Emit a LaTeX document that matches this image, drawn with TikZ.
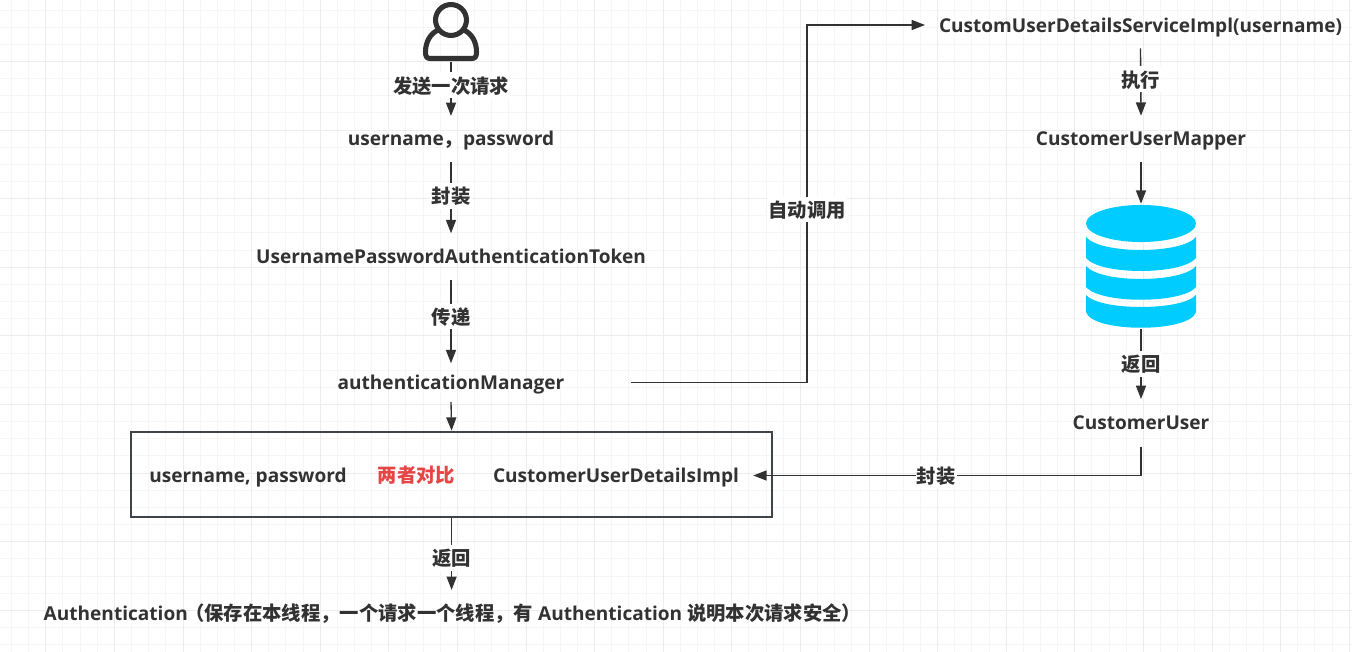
\documentclass[tikz,border=0pt]{standalone}
\usepackage{fontspec}
\setmainfont{Open Sans}
\newfontfamily\cjk{Noto Sans CJK SC}
\definecolor{ink}{HTML}{323232}
\definecolor{gridminor}{HTML}{F6F6F6}
\definecolor{gridmajor}{HTML}{EDEDED}
\definecolor{dbblue}{HTML}{00CCFF}
\definecolor{boxline}{HTML}{3F4448}
\definecolor{redtxt}{HTML}{E64545}
\usetikzlibrary{arrows.meta}
\newcommand{\zh}[1]{{\fontsize{14.5}{17}\selectfont\cjk #1}}
\tikzset{
  txt/.style={inner sep=0pt,text=ink,font=\fontsize{14.3}{17}\selectfont\bfseries,anchor=center,text height=13pt,text depth=2.8pt},
  lbl/.style={txt,fill=white,inner xsep=1pt,inner ysep=1pt,text height=14.5pt},
  link/.style={draw=ink,line width=1pt,-{Triangle[length=10pt,width=7.5pt]}},
  hgt/.style={minimum height=#1*0.75pt},
  wid/.style={minimum width=#1*0.75pt},
}
\begin{document}
\begin{tikzpicture}[x=0.75pt,y=-0.75pt]
\useasboundingbox (0,0) rectangle (1352,652);
\fill[white] (0,0) rectangle (1352,652);
\foreach \i in {0,...,79}{\draw[gridminor,line width=0.75pt] ({11.5+17.15*\i},0) -- ({11.5+17.15*\i},652);}
\foreach \i in {0,...,38}{\draw[gridminor,line width=0.75pt] (0,{10.05+17.15*\i}) -- (1352,{10.05+17.15*\i});}
\foreach \i in {0,...,19}{\draw[gridmajor,line width=0.75pt] ({45.8+68.6*\i},0) -- ({45.8+68.6*\i},652);}
\foreach \i in {0,...,9}{\draw[gridmajor,line width=0.75pt] (0,{61.5+68.6*\i}) -- (1352,{61.5+68.6*\i});}
% user icon
\node[inner sep=0pt,wid=58,hgt=62] (user) at (451,31) {};
\draw[ink,line width=3.8pt] (451,20) circle[radius=11.6pt];
\draw[ink,line width=3.8pt,line join=round]
  (438,30) .. controls (430,34) and (425.5,42) .. (425.5,52) .. controls (425.5,56) and (426.5,58.5) .. (430,58.5)
  -- (472,58.5) .. controls (475.5,58.5) and (476.5,56) .. (476.5,52) .. controls (476.5,42) and (472,34) .. (464,30);
% database
\node[inner sep=0pt,wid=110,hgt=125] (db) at (1141,266.5) {};
\fill[dbblue] (1141,223.5) ellipse[x radius=41.25pt,y radius=13.9pt];
\fill[dbblue] (1086,237) .. controls (1100,254.3) and (1182,254.3) .. (1196,237) -- (1196,258) .. controls (1182,275.3) and (1100,275.3) .. (1086,258) -- cycle;
\fill[dbblue] (1086,266) .. controls (1100,283.3) and (1182,283.3) .. (1196,266) -- (1196,287) .. controls (1182,304) and (1100,304) .. (1086,287) -- cycle;
\fill[dbblue] (1086,295) .. controls (1100,311) and (1182,311) .. (1196,295) -- (1196,312) .. controls (1190,333) and (1092,333) .. (1086,312) -- cycle;
% text nodes
\node[txt,hgt=46] (cred) at (451,139.2) {username\zh{，}password};
\node[txt,hgt=46] (token) at (451,256.5) {UsernamePasswordAuthenticationToken};
\node[txt,hgt=38,wid=360] (mgr) at (451,382.5) {authenticationManager};
\node[draw=boxline,line width=1.5pt,inner sep=0pt,wid=641,hgt=85] (cmp) at (451.6,474.2) {};
\node[txt] (pair) at (248,475.5) {username, password};
\node[txt,text=redtxt] (vs) at (416.5,476) {\zh{两者对比}};
\node[txt,wid=274] (impl) at (616,475.5) {CustomerUserDetailsImpl};
\node[txt,hgt=46] (auth) at (452.5,613.2) {Authentication\hspace{-2pt}\zh{（保存在本线程，一个请求一个线程，有} Authentication \zh{说明本次请求安全）}};
\node[txt,wid=431,hgt=45] (custom) at (1140.5,25.5) {CustomUserDetailsServiceImpl(username)};
\node[txt,hgt=46] (mapper) at (1141,139) {CustomerUserMapper};
\node[txt,hgt=47] (cuser) at (1141,422.8) {CustomerUser};
\coordinate (bend) at (807,25);
\coordinate (cin) at (925,25);
% connectors
\draw[link] (user.south) -- node[lbl,pos=.43] {\zh{发送一次请求}} (cred.north);
\draw[link] (cred.south) -- node[lbl,pos=.47] {\zh{封装}} (token.north);
\draw[link] (token.south) -- node[lbl,pos=.44] {\zh{传递}} (mgr.north);
\draw[link] (mgr.south) -- (cmp.north);
\draw[link] (cmp.south) -- node[lbl,pos=.56] {\zh{返回}} (cmp.south |- auth.north);
\draw[link] (mgr.east) -| node[lbl,pos=.742] {\zh{自动调用}} (bend) -- (cin);
\draw[link] (custom.south) -- node[lbl,pos=.46] {\zh{执行}} (mapper.north);
\draw[link] (mapper.south) -- (db.north);
\draw[link] (db.south) -- node[lbl,pos=.5] {\zh{返回}} (cuser.north);
\draw[link] (cuser.south) |- node[lbl,pos=.764] {\zh{封装}} (impl.east);
\end{tikzpicture}
\end{document}
